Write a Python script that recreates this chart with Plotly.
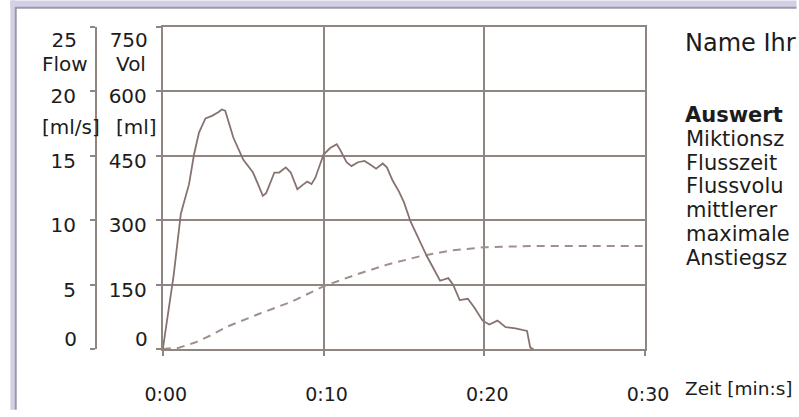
import plotly.graph_objects as go

# ---------------- data ----------------
flow_t = [0, 0.67, 1.12, 1.63, 1.94, 2.25, 2.65, 3.06, 3.47, 3.67, 3.88, 4.39, 5.0, 5.61,
          5.92, 6.22, 6.43, 6.94, 7.24, 7.65, 7.96, 8.37, 8.67, 8.98, 9.25, 9.49, 10.0,
          10.41, 10.82, 11.02, 11.43, 11.74, 12.14, 12.55, 12.92, 13.27, 13.68, 13.94,
          14.29, 14.70, 15.0, 15.41, 16.43, 17.25, 17.76, 18.06, 18.47, 18.98, 19.39,
          19.90, 20.31, 20.82, 21.33, 21.94, 22.66, 22.86, 23.06]
flow_ml_s = [0, 5.7, 10.5, 12.8, 15.1, 16.8, 17.9, 18.1, 18.4, 18.6, 18.5, 16.4, 14.7, 13.7,
             12.8, 11.9, 12.1, 13.7, 13.7, 14.1, 13.7, 12.4, 12.7, 13.0, 12.8, 13.3, 15.1,
             15.6, 15.9, 15.5, 14.5, 14.2, 14.5, 14.6, 14.3, 14.0, 14.4, 14.1,
             13.1, 12.2, 11.4, 9.9, 7.2, 5.3, 5.5, 5.0, 3.8, 3.9, 3.2,
             2.2, 1.9, 2.2, 1.7, 1.6, 1.4, 0.1, 0]

vol_t = [0, 1, 2, 3, 4, 6, 8, 10, 12, 14, 16, 18, 20, 22, 23, 30]
vol_ml = [0, 3, 15, 32, 52, 82, 110, 146, 173, 197, 216, 230, 237, 240, 240, 240]

x_tickvals = [0, 10, 20, 30]
x_ticktext = ["0:00", "0:10", "0:20", "0:30"]
flow_ticks = [0, 5, 10, 15, 20, 25]
vol_ticks = [0, 150, 300, 450, 600, 750]

# visible (cut) text of the info block on the right
info_title = "Name Ihr"
info_head = "Auswert"
info_lines = ["Miktionsz", "Flusszeit", "Flussvolu", "mittlerer",
              "maximale", "Anstiegsz"]

# ---------------- geometry helpers ----------------
W, H = 799, 417
ML, MR, MT, MB = 20, 154, 27, 62
PW = W - ML - MR
PH = H - MT - MB


def px_x(px):
    return (px - ML) / PW


def px_y(py):
    return (H - MB - py) / PH


GRID = "#8f8681"
LINE = "#86736f"
DASH = "#a08f8b"
TXT = "#1c1c1c"
FONT = "DejaVu Sans"

fig = go.Figure()

fig.add_trace(go.Scatter(x=flow_t, y=flow_ml_s, mode="lines", yaxis="y2",
                         line=dict(color=LINE, width=1.8), hoverinfo="skip",
                         showlegend=False))
fig.add_trace(go.Scatter(x=vol_t, y=vol_ml, mode="lines", yaxis="y",
                         line=dict(color=DASH, width=2, dash="8px,6px"),
                         hoverinfo="skip", showlegend=False))
for ax in ["y3", "y4", "y5", "y6"]:
    fig.add_trace(go.Scatter(x=[], y=[], yaxis=ax, showlegend=False, hoverinfo="skip"))

x_dom0 = px_x(155)
flow_pos = px_x(87)

common = dict(showgrid=False, zeroline=False, fixedrange=True, showline=False,
              ticks="outside", ticklen=5, tickcolor="rgba(0,0,0,0)",
              tickfont=dict(family=FONT, size=20, color=TXT))

fig.update_layout(
    width=W, height=H,
    margin=dict(l=ML, r=MR, t=MT, b=MB, pad=0),
    paper_bgcolor="white", plot_bgcolor="white",
    showlegend=False,
    xaxis=dict(domain=[x_dom0, 1], range=[0, 30], tickvals=x_tickvals, ticktext=x_ticktext,
               showline=True, mirror=True, linecolor=GRID, linewidth=2,
               showgrid=True, gridcolor=GRID, gridwidth=2, zeroline=False,
               ticks="outside", ticklen=5, tickwidth=2, tickcolor=GRID,
               ticklabelstandoff=22, ticklabelshift=3,
               tickfont=dict(family=FONT, size=19, color=TXT), fixedrange=True),
    yaxis=dict(range=[0, 750], tickvals=vol_ticks,
               ticktext=[""] + [str(v) for v in vol_ticks[1:-1]] + [""],
               showline=True, mirror=True, linecolor=GRID, linewidth=2,
               showgrid=True, gridcolor=GRID, gridwidth=2, zeroline=False,
               ticks="outside", ticklen=5, tickwidth=2, tickcolor=GRID,
               ticklabelstandoff=5, ticklabelshift=5,
               tickfont=dict(family=FONT, size=20, color=TXT), fixedrange=True),
    yaxis3=dict(overlaying="y", anchor="x", range=[0, 750], tickvals=[vol_ticks[-1]],
                ticktext=[str(vol_ticks[-1])], ticklabelshift=13,
                ticklabelstandoff=5, **common),
    yaxis4=dict(overlaying="y", anchor="x", range=[0, 750], tickvals=[vol_ticks[0]],
                ticktext=[str(vol_ticks[0])], ticklabelshift=-10,
                ticklabelstandoff=5, **common),
    yaxis2=dict(overlaying="y", anchor="free", position=flow_pos, side="left",
                range=[0, 25], tickvals=flow_ticks,
                ticktext=[""] + [str(v) for v in flow_ticks[1:-1]] + [""],
                showline=True, linecolor=GRID, linewidth=2,
                ticks="outside", ticklen=5, tickwidth=2, tickcolor=GRID,
                ticklabelstandoff=10, ticklabelshift=5, showgrid=False, zeroline=False,
                fixedrange=True, tickfont=dict(family=FONT, size=20, color=TXT)),
    yaxis5=dict(overlaying="y", anchor="free", position=flow_pos, side="left",
                range=[0, 25], tickvals=[flow_ticks[-1]], ticktext=[str(flow_ticks[-1])],
                ticklabelshift=13, ticklabelstandoff=10, **common),
    yaxis6=dict(overlaying="y", anchor="free", position=flow_pos, side="left",
                range=[0, 25], tickvals=[flow_ticks[0]], ticktext=[str(flow_ticks[0])],
                ticklabelshift=-10, ticklabelstandoff=10, **common),
)

# frame: lavender bands top/left
LAV = "#d3cfe5"
EDGE = "#9c97ad"
fig.add_shape(type="rect", xref="paper", yref="paper", layer="below",
              x0=px_x(0), x1=px_x(W), y0=px_y(7), y1=px_y(0),
              fillcolor=LAV, line=dict(width=0))
fig.add_shape(type="rect", xref="paper", yref="paper", layer="below",
              x0=px_x(0), x1=px_x(5), y0=px_y(H), y1=px_y(0),
              fillcolor=LAV, line=dict(width=0))
fig.add_shape(type="line", xref="paper", yref="paper", layer="below",
              x0=px_x(5), x1=px_x(W), y0=px_y(7.5), y1=px_y(7.5),
              line=dict(color=EDGE, width=2))
fig.add_shape(type="line", xref="paper", yref="paper", layer="below",
              x0=px_x(5.5), x1=px_x(5.5), y0=px_y(7), y1=px_y(H),
              line=dict(color=EDGE, width=2))


def ann(text, px, py, size=20, bold=False, anchor="left"):
    fig.add_annotation(text=f"<b>{text}</b>" if bold else text,
                       xref="paper", yref="paper", x=px_x(px), y=px_y(py),
                       xanchor=anchor, yanchor="middle", showarrow=False,
                       font=dict(family=FONT, size=size, color=TXT))


ann("Flow", 30, 64.5)
ann("[ml/s]", 30, 129)
ann("Vol", 105, 64.5)
ann("[ml]", 105, 129)
ann("Zeit [min:s]", 684, 395, size=18.5)

# info block
ann(info_title, 684, 43.5, size=24)
ann(info_head, 684, 116.5, size=21, bold=True)
for i, t in enumerate(info_lines):
    ann(t, 685, 140.8 + 24.3 * i, size=21)

fig.write_html("out.html", config={"displayModeBar": False},
               post_script="document.body.style.margin='0px';document.body.style.overflow='hidden';")
